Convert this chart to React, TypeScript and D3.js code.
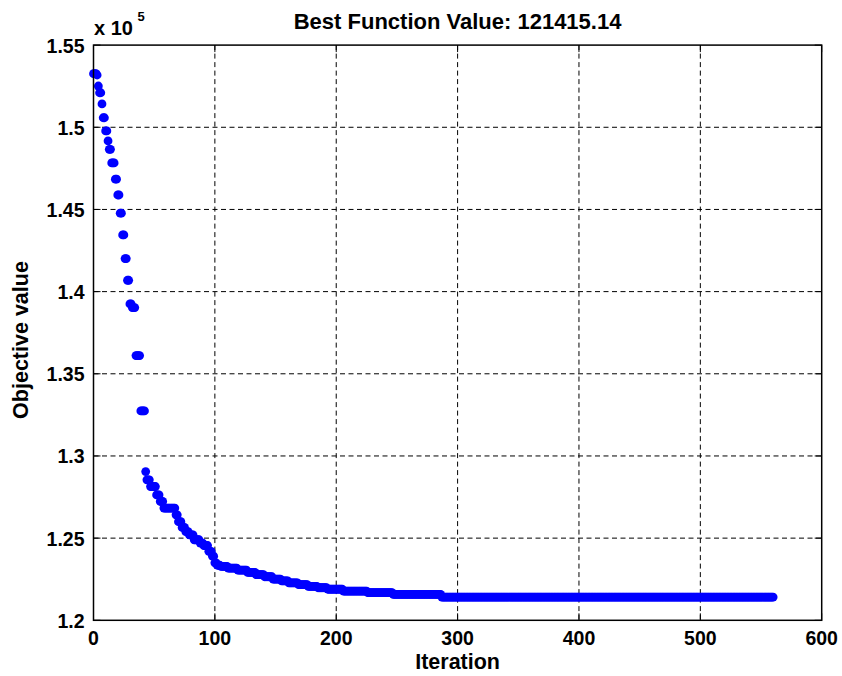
import React from "react";
import * as d3 from "d3";

// best objective value per iteration, read as plateaus: [firstIter, lastIter, value (x1e5)]
const plateaus: [number, number, number][] = [
  [0, 2, 1.5326], [3, 3, 1.5318], [4, 4, 1.5251], [5, 6, 1.521], [7, 7, 1.5142],
  [8, 9, 1.5058], [10, 11, 1.4978], [12, 12, 1.4917], [13, 14, 1.4866], [15, 17, 1.4783],
  [18, 19, 1.4684], [20, 21, 1.4588], [22, 23, 1.4477], [24, 25, 1.4345], [26, 27, 1.4201],
  [28, 29, 1.4069], [30, 31, 1.3925], [32, 34, 1.3903], [35, 38, 1.3611], [39, 42, 1.3274],
  [43, 43, 1.2905], [44, 46, 1.2855], [47, 51, 1.2814], [52, 54, 1.2763], [55, 57, 1.2723],
  [58, 67, 1.2683], [68, 69, 1.2642], [70, 72, 1.26], [73, 75, 1.2565], [76, 78, 1.254],
  [79, 82, 1.252], [83, 87, 1.249], [88, 90, 1.247], [91, 94, 1.2455], [95, 97, 1.242],
  [98, 99, 1.239], [100, 101, 1.235], [102, 104, 1.2335], [105, 110, 1.2328], [111, 118, 1.2318],
  [119, 126, 1.2305], [127, 133, 1.2292], [134, 140, 1.2278], [141, 147, 1.2265], [148, 154, 1.225],
  [155, 160, 1.224], [161, 168, 1.2228], [169, 176, 1.2217], [177, 184, 1.2207], [185, 192, 1.2198],
  [193, 205, 1.2189], [206, 225, 1.2178], [226, 246, 1.2169], [247, 286, 1.2158], [287, 560, 1.21415],
];

const xTicks = [0, 100, 200, 300, 400, 500, 600];
const yTicks = [1.2, 1.25, 1.3, 1.35, 1.4, 1.45, 1.5, 1.55];
const yTickLabels = ["1.2", "1.25", "1.3", "1.35", "1.4", "1.45", "1.5", "1.55"];

const points: { it: number; v: number }[] = [];
plateaus.forEach(([a, b, v]) => {
  for (let i = a; i <= b; i++) points.push({ it: i, v });
});

const font = "'Liberation Sans', Arial, Helvetica, sans-serif";

const App = () => {
  const left = 93.5, right = 821.7, top = 45.1, bottom = 620.3;
  const x = d3.scaleLinear().domain([0, 600]).range([left, right]);
  const y = d3.scaleLinear().domain([1.2, 1.55]).range([bottom, top]);
  const tl = 7;

  return (
    <svg width={842} height={676} style={{ position: "absolute", left: 0, top: 0, background: "#fff" }}
      fontFamily={font} fontWeight="bold">
      <rect width={842} height={676} fill="#fff" />
      {/* grid */}
      <g stroke="#000" strokeWidth={1} strokeDasharray="5,3.5">
        {xTicks.slice(1, -1).map((t) => (
          <line key={"gx" + t} x1={x(t)} x2={x(t)} y1={top} y2={bottom} />
        ))}
        {yTicks.slice(1, -1).map((t) => (
          <line key={"gy" + t} x1={left} x2={right} y1={y(t)} y2={y(t)} />
        ))}
      </g>
      {/* data */}
      <g fill="#0000ff">
        {points.map((d) => (
          <circle key={d.it} cx={x(d.it)} cy={y(d.v)} r={4.4} />
        ))}
      </g>
      {/* box and ticks */}
      <rect x={left} y={top} width={right - left} height={bottom - top} fill="none" stroke="#000" strokeWidth={1.5} />
      <g stroke="#000" strokeWidth={1}>
        {xTicks.map((t) => (
          <g key={"tx" + t}>
            <line x1={x(t)} x2={x(t)} y1={bottom} y2={bottom - tl} />
            <line x1={x(t)} x2={x(t)} y1={top} y2={top + tl} />
          </g>
        ))}
        {yTicks.map((t) => (
          <g key={"ty" + t}>
            <line x1={left} x2={left + tl} y1={y(t)} y2={y(t)} />
            <line x1={right} x2={right - tl} y1={y(t)} y2={y(t)} />
          </g>
        ))}
      </g>
      {/* tick labels */}
      <g fontSize={19.5} fill="#000">
        {xTicks.map((t) => (
          <text key={"lx" + t} x={x(t)} y={bottom + 24.5} textAnchor="middle">{t}</text>
        ))}
        {yTicks.map((t, i) => (
          <text key={"ly" + t} x={left - 9} y={y(t) + 7.5} textAnchor="end">{yTickLabels[i]}</text>
        ))}
      </g>
      {/* exponent */}
      <text x={94} y={35} fontSize={20}>x 10</text>
      <text x={137.5} y={21} fontSize={13}>5</text>
      {/* title and labels */}
      <text x={(left + right) / 2} y={29} fontSize={22} textAnchor="middle">Best Function Value: 121415.14</text>
      <text x={(left + right) / 2} y={669} fontSize={21.5} textAnchor="middle">Iteration</text>
      <text transform={`translate(28,340) rotate(-90)`} fontSize={21.5} textAnchor="middle">Objective value</text>
    </svg>
  );
};

export default App;
